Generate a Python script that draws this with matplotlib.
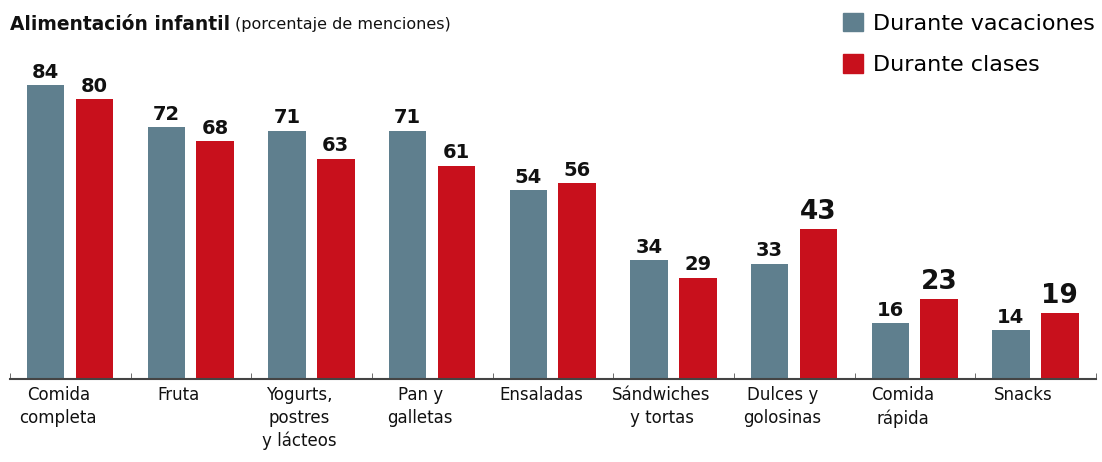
import numpy as np
import matplotlib
matplotlib.use("Agg")
import matplotlib.pyplot as plt
from matplotlib.patches import Patch

categorias = ["Comida\ncompleta", "Fruta", "Yogurts,\npostres\ny lácteos", "Pan y\ngalletas",
              "Ensaladas", "Sándwiches\ny tortas", "Dulces y\ngolosinas", "Comida\nrápida", "Snacks"]
vacaciones = [84, 72, 71, 71, 54, 34, 33, 16, 14]
clases = [80, 68, 63, 61, 56, 29, 43, 23, 19]
destacados = ["Dulces y\ngolosinas", "Comida\nrápida", "Snacks"]

gris = "#5f7f8e"
rojo = "#c8101c"

plt.rcParams['font.family'] = ['DejaVu Sans']

fig = plt.figure(figsize=(11.02, 4.62), dpi=100)
ax = fig.add_axes([10 / 1102, 83 / 462, 1086 / 1102, 350 / 462])

x = np.arange(len(categorias))
ancho = 0.31
b1 = ax.bar(x - 0.205, vacaciones, ancho, color=gris)
b2 = ax.bar(x + 0.2, clases, ancho, color=rojo)

for rect, v in zip(b1, vacaciones):
    ax.annotate(str(v), (rect.get_x() + rect.get_width() / 2, v), xytext=(0, 2.5),
                textcoords="offset points", ha="center", va="bottom",
                fontsize=14, fontweight="bold", color="#111111")
for rect, v, c in zip(b2, clases, categorias):
    ax.annotate(str(v), (rect.get_x() + rect.get_width() / 2, v), xytext=(0, 2.5),
                textcoords="offset points", ha="center", va="bottom",
                fontsize=19 if c in destacados else 14, fontweight="bold", color="#111111")

ax.set_xlim(-0.5, len(categorias) - 0.5)
ax.set_ylim(0, 100)
ax.set_yticks([])
ax.set_xticks(x - 0.1)
ax.set_xticklabels(categorias, fontsize=12, linespacing=1.35, color="#111111")
ax.tick_params(axis="x", length=0, pad=5)
ax.set_xticks(np.arange(len(categorias) + 1) - 0.5, minor=True)
ax.tick_params(axis="x", which="minor", direction="in", length=4, color="#555555")
for s in ["top", "right", "left"]:
    ax.spines[s].set_visible(False)
ax.spines["bottom"].set_color("#444444")
ax.spines["bottom"].set_linewidth(1.5)

# titulo
t1 = fig.text(10 / 1102, 1 - 24 / 462, "Alimentación infantil", fontsize=13.4,
              fontweight="bold", va="center", ha="left", color="#111111")
fig.canvas.draw()
bb = t1.get_window_extent()
fig.text((bb.x1 + 5) / 1102, 1 - 25 / 462, "(porcentaje de menciones)", fontsize=11.5,
         va="center", ha="left", color="#111111")

handles = [Patch(color=gris, label="Durante vacaciones"), Patch(color=rojo, label="Durante clases")]
fig.legend(handles=handles, loc="upper left", bbox_to_anchor=(834 / 1102, 1 - 4 / 462),
           borderaxespad=0, frameon=False, fontsize=16, handlelength=0.9, handleheight=0.9,
           handletextpad=0.45, labelspacing=0.92)

fig.savefig("out.png", dpi=100)
